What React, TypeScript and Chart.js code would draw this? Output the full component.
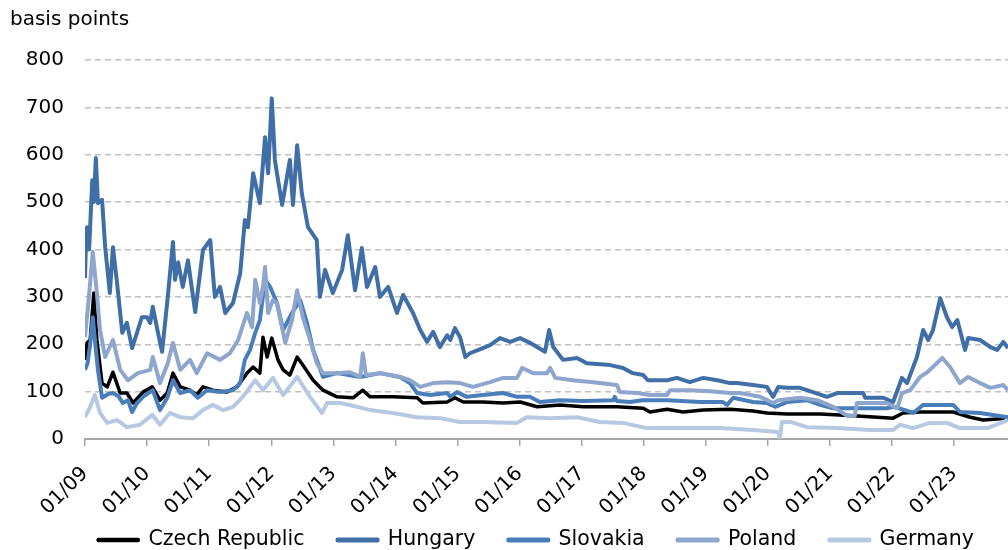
import React, { useEffect, useRef } from "react";
import { Chart, registerables } from "chart.js";

Chart.register(...registerables);

// x values are months since January 2009
const yearTicks = ["01/09", "01/10", "01/11", "01/12", "01/13", "01/14", "01/15", "01/16", "01/17", "01/18", "01/19", "01/20", "01/21", "01/22", "01/23"];

const seriesNames = ["Czech Republic", "Hungary", "Slovakia", "Poland", "Germany"];
const seriesColors = ["#000000", "#3F6FA6", "#4A7EBB", "#8EA5CD", "#B7C8E2"];
const seriesWidths = [3.5, 4, 4, 4, 4];

const czech: [number, number][] = [
  [0, 167], [0.4, 203], [1.0, 209], [1.7, 308], [2.3, 209], [3.3, 118], [4.3, 110], [5.4, 141], [6.8, 97], [8.1, 97], [9.3, 76], [11.2, 99], [13.0, 110], [14.5, 82], [15.9, 97], [17.0, 139], [18.4, 110], [20.3, 103], [21.6, 93], [22.8, 110], [24.7, 103], [27.4, 99], [29.4, 110], [31.3, 139], [32.5, 152], [33.8, 139], [34.4, 215], [35.2, 173], [36.1, 213], [37.3, 167], [38.3, 146], [39.6, 135], [41.0, 173], [42.1, 156], [44.1, 124], [46.0, 103], [48.7, 89], [51.8, 87], [53.7, 103], [55.1, 89], [59.5, 89], [64.2, 87], [65.3, 76], [70.0, 78], [71.5, 87], [73.1, 78], [76.9, 78], [80.8, 76], [84.1, 78], [87.4, 68], [91.8, 72], [96.3, 68], [102.8, 68], [107.9, 65], [109.2, 57], [112.5, 63], [115.6, 57], [119.5, 61], [124.7, 63], [129.1, 59], [131.8, 55], [135.7, 53], [142.1, 53], [148.5, 49], [156.2, 44], [158.1, 55], [161.4, 57], [167.8, 57], [171.1, 46], [173.6, 40], [178.4, 44]
];

const hungary: [number, number][] = [
  [0, 340], [0.2, 420], [0.4, 447], [0.8, 400], [1.4, 546], [1.7, 500], [2.1, 593], [2.5, 498], [3.3, 505], [3.9, 405], [4.8, 308], [5.4, 405], [6.2, 329], [7.2, 224], [8.1, 245], [9.1, 192], [11.0, 257], [12.0, 257], [12.6, 245], [13.1, 279], [14.0, 230], [14.9, 184], [16.0, 300], [17.0, 416], [17.4, 336], [18.0, 373], [18.9, 321], [19.9, 377], [21.3, 268], [22.8, 399], [24.2, 420], [25.1, 300], [26.1, 321], [27.1, 266], [28.6, 287], [30.0, 350], [30.9, 462], [31.5, 447], [32.5, 561], [33.8, 498], [34.8, 637], [35.4, 561], [36.1, 719], [36.7, 589], [37.1, 561], [38.1, 494], [39.6, 589], [40.2, 494], [41.0, 620], [41.9, 519], [43.1, 447], [44.8, 420], [45.4, 300], [46.4, 357], [47.9, 308], [49.7, 357], [50.8, 430], [52.2, 314], [53.5, 403], [54.5, 321], [56.1, 363], [57.0, 300], [58.6, 321], [60.3, 266], [61.5, 304], [63.4, 266], [64.8, 230], [66.1, 205], [67.3, 226], [68.6, 194], [70.0, 219], [70.6, 209], [71.5, 234], [72.5, 215], [73.5, 173], [74.4, 181], [76.9, 192], [78.3, 198], [80.2, 213], [82.2, 205], [84.1, 213], [86.0, 203], [88.9, 184], [89.7, 230], [90.5, 194], [92.4, 167], [95.1, 171], [97.0, 160], [101.5, 156], [104.0, 150], [105.9, 139], [107.9, 135], [108.8, 124], [112.5, 124], [114.4, 129], [116.9, 120], [119.5, 129], [122.2, 124], [124.7, 118], [126.0, 118], [129.1, 114], [131.8, 110], [133.0, 89], [134.0, 110], [135.7, 108], [138.2, 108], [140.7, 99], [143.4, 89], [145.4, 97], [150.4, 97], [150.8, 87], [154.3, 87], [156.2, 78], [157.9, 129], [158.9, 118], [160.8, 173], [162.0, 230], [163.0, 209], [163.9, 230], [165.3, 297], [166.6, 257], [167.6, 236], [168.6, 251], [170.1, 188], [170.7, 213], [173.0, 209], [175.0, 194], [176.3, 188], [177.5, 205], [178.4, 192]
];

const slovakia: [number, number][] = [
  [0, 146], [0.5, 160], [1.0, 200], [1.5, 257], [2.0, 200], [2.5, 146], [3.3, 87], [4.5, 95], [5.4, 97], [6.5, 90], [7.3, 76], [8.3, 82], [9.1, 57], [10.0, 75], [11.2, 89], [13.1, 103], [14.5, 61], [15.9, 87], [17.0, 124], [18.4, 97], [20.3, 103], [21.8, 87], [23.6, 103], [26.1, 99], [28.6, 103], [30.0, 118], [30.9, 167], [31.9, 188], [32.9, 224], [33.8, 251], [34.8, 336], [35.8, 321], [37.1, 287], [38.3, 230], [40.0, 266], [41.6, 293], [42.9, 245], [44.1, 188], [46.0, 131], [48.7, 139], [53.2, 131], [57.0, 139], [60.9, 131], [62.8, 118], [64.2, 97], [66.7, 93], [70.0, 97], [70.6, 89], [71.9, 99], [73.8, 89], [76.9, 93], [80.8, 97], [83.5, 89], [86.0, 89], [87.9, 78], [91.8, 82], [96.3, 80], [102.1, 82], [102.4, 89], [102.8, 80], [105.3, 78], [107.7, 82], [112.5, 82], [118.9, 78], [123.3, 78], [124.1, 72], [125.3, 87], [129.1, 78], [131.8, 76], [133.4, 68], [135.7, 78], [139.6, 82], [142.1, 72], [144.6, 65], [155.0, 65], [156.2, 68], [158.5, 61], [160.1, 55], [162.0, 72], [167.8, 72], [169.1, 57], [173.0, 55], [178.4, 46]
];

const poland: [number, number][] = [
  [0, 215], [0.5, 270], [1.0, 330], [1.5, 395], [2.3, 308], [2.9, 230], [3.9, 173], [5.4, 209], [6.8, 146], [8.3, 124], [10.2, 139], [12.6, 146], [13.1, 173], [14.5, 118], [16.0, 160], [17.0, 203], [18.4, 146], [20.3, 167], [21.6, 139], [23.6, 181], [26.1, 167], [28.0, 181], [29.6, 209], [31.3, 266], [32.3, 236], [32.9, 336], [33.8, 287], [34.4, 321], [34.8, 363], [35.4, 266], [36.3, 293], [37.1, 287], [38.7, 203], [40.0, 251], [41.0, 314], [42.1, 257], [43.5, 209], [44.8, 160], [46.0, 139], [48.7, 139], [51.2, 141], [53.2, 131], [53.7, 181], [54.3, 135], [57.0, 139], [60.9, 131], [62.8, 124], [64.8, 110], [67.3, 118], [70.0, 120], [72.5, 118], [75.0, 110], [78.3, 120], [80.8, 129], [83.5, 129], [84.5, 150], [86.6, 139], [89.3, 139], [89.9, 150], [90.9, 129], [94.3, 124], [98.2, 120], [102.8, 114], [103.4, 99], [106.7, 97], [109.2, 93], [112.5, 93], [113.1, 103], [116.9, 103], [120.8, 101], [124.7, 97], [126.6, 97], [130.5, 89], [133.0, 76], [134.0, 82], [138.2, 87], [141.5, 82], [144.6, 68], [147.3, 49], [148.8, 49], [149.2, 76], [155.0, 76], [157.0, 65], [157.9, 97], [159.5, 103], [161.4, 131], [162.8, 141], [165.7, 171], [167.2, 152], [169.1, 118], [170.7, 131], [173.0, 118], [175.0, 108], [177.5, 114], [178.4, 103]
];

const germany: [number, number][] = [
  [0, 46], [1.0, 68], [1.9, 93], [2.9, 55], [4.3, 34], [6.2, 40], [8.1, 25], [10.6, 30], [13.0, 51], [14.5, 30], [16.4, 55], [18.4, 46], [20.9, 44], [22.8, 61], [24.7, 72], [26.7, 61], [28.6, 68], [30.5, 89], [32.9, 124], [34.4, 103], [36.3, 129], [38.3, 93], [41.0, 131], [43.5, 89], [45.8, 55], [46.8, 76], [49.3, 76], [52.6, 68], [55.1, 61], [59.5, 55], [64.2, 46], [68.6, 44], [72.5, 36], [76.9, 36], [83.5, 34], [85.4, 46], [89.9, 44], [95.1, 46], [99.5, 36], [104.0, 34], [108.6, 23], [115.6, 23], [122.7, 23], [129.1, 19], [134.0, 15], [134.3, 0], [134.7, 36], [136.3, 36], [139.6, 25], [145.4, 23], [151.7, 19], [156.2, 19], [157.5, 30], [160.1, 23], [163.3, 34], [166.6, 34], [169.1, 23], [174.4, 23], [178.4, 40]
];

const allSeries = [czech, hungary, slovakia, poland, germany];

const FONT_FAMILY = "'DejaVu Sans', Verdana, sans-serif";
const LEGEND_FONT = 20.5;
const LEGEND_PAD = 33;
const LEGEND_HEIGHT = LEGEND_FONT + LEGEND_PAD + 10;
const PLOT_BOTTOM = 439;
const X_AXIS_HEIGHT = 74;
const LEGEND_TEXT_Y = 540;

export default function App() {
  const ref = useRef<HTMLCanvasElement>(null);

  useEffect(() => {
    const canvas = ref.current;
    if (!canvas) return;

    const unitLabel = {
      id: "unitLabel",
      afterDraw(chart: any) {
        const c = chart.ctx;
        c.save();
        c.font = `20px ${FONT_FAMILY}`;
        c.fillStyle = "#000";
        c.textAlign = "left";
        c.textBaseline = "middle";
        c.fillText("basis points", 10, 20);
        c.restore();
      },
    };

    const legendPlacer = {
      id: "legendPlacer",
      afterLayout(chart: any) {
        const lg = chart.legend;
        if (!lg) return;
        const h = lg.height;
        lg.left = 64;
        lg.width = lg.right - lg.left;
        lg.top = LEGEND_TEXT_Y - LEGEND_PAD - LEGEND_FONT / 2;
        lg.bottom = lg.top + h;
      },
    };

    const chart = new Chart(canvas, {
      type: "line",
      data: {
        datasets: allSeries.map((pts, i) => ({
          label: seriesNames[i],
          data: pts.map(([x, y]) => ({ x, y })),
          borderColor: seriesColors[i],
          backgroundColor: seriesColors[i],
          borderWidth: seriesWidths[i],
          pointRadius: 0,
          tension: 0,
          borderJoinStyle: "round" as const,
          order: allSeries.length - i,
        })),
      },
      options: {
        animation: false,
        responsive: false,
        maintainAspectRatio: false,
        layout: {
          padding: { top: 60, left: 0, right: 0, bottom: 550 - PLOT_BOTTOM - X_AXIS_HEIGHT - LEGEND_HEIGHT },
        },
        plugins: {
          legend: {
            position: "bottom",
            labels: {
              boxWidth: 40,
              boxHeight: 1,
              padding: LEGEND_PAD,
              color: "#000",
              font: { family: FONT_FAMILY, size: LEGEND_FONT },
              sort: (a: any, b: any) => a.datasetIndex - b.datasetIndex,
            },
          },
          tooltip: { enabled: false },
          title: { display: false },
        },
        scales: {
          x: {
            type: "linear",
            min: 0,
            max: 178.4,
            afterBuildTicks: (s: any) => {
              s.ticks = yearTicks.map((_, i) => ({ value: i * 12 }));
            },
            afterFit: (s: any) => {
              s.paddingLeft = 0;
              s.paddingRight = 0;
              s.height = X_AXIS_HEIGHT;
            },
            ticks: {
              autoSkip: false,
              minRotation: 45,
              maxRotation: 45,
              padding: 16,
              color: "#000",
              font: { family: FONT_FAMILY, size: 20 },
              callback: (v: any) => yearTicks[Math.round(Number(v) / 12)] ?? "",
            },
            grid: { drawOnChartArea: false, drawTicks: true, tickLength: 7, color: "#a6a6a6", lineWidth: 1.5 },
            border: { display: true, color: "#a6a6a6", width: 2 },
          },
          y: {
            min: 0,
            max: 800,
            afterFit: (s: any) => {
              s.width = 85;
            },
            ticks: {
              stepSize: 100,
              padding: 21,
              color: "#000",
              font: { family: FONT_FAMILY, size: 20 },
            },
            grid: {
              drawTicks: false,
              lineWidth: 1.5,
              color: (c: any) => (c.tick && c.tick.value === 0 ? "rgba(0,0,0,0)" : "#c0c0c0"),
            },
            border: { display: false, dash: [6, 4] },
          },
        },
      },
      plugins: [unitLabel, legendPlacer],
    });

    return () => chart.destroy();
  }, []);

  return (
    <div style={{ position: "absolute", left: 0, top: 0, width: 1008, height: 550 }}>
      <canvas ref={ref} width={1008} height={550} style={{ display: "block", width: 1008, height: 550 }} />
    </div>
  );
}
